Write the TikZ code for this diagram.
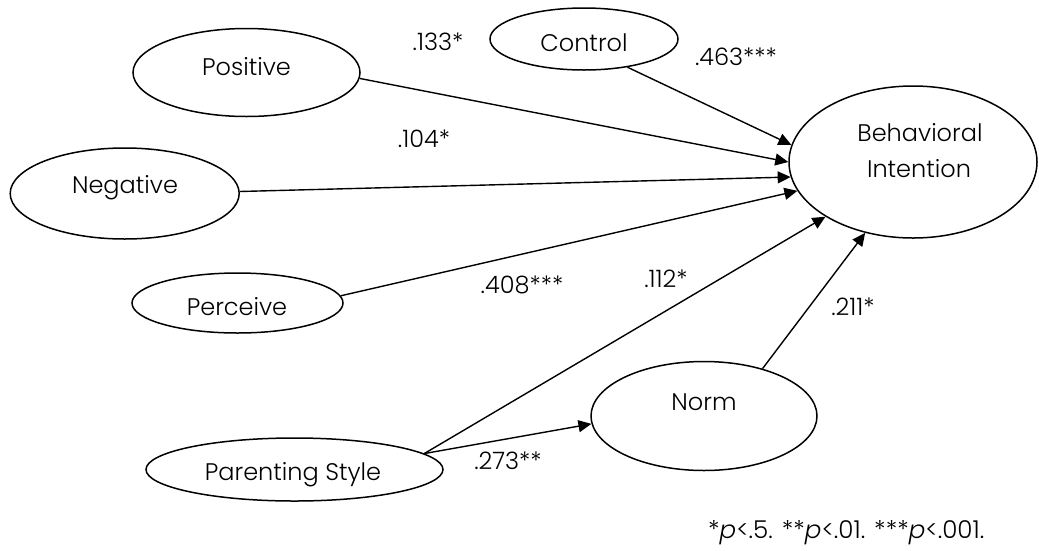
\documentclass[tikz,border=0pt]{standalone}
\usepackage{fontspec}
\setmainfont{Poppins}[UprightFont={* Light}, ItalicFont={* Light Italic}]
\usetikzlibrary{shapes.geometric,arrows.meta}
\begin{document}
\begin{tikzpicture}[x=1pt,y=-1pt,
  lat/.style={draw, ellipse, line width=1.5pt, inner sep=0pt},
  txt/.style={font=\fontsize{24}{28}\selectfont, inner sep=0pt, anchor=base},
  pth/.style={line width=1.4pt, -{Triangle[length=13pt,width=12pt]}},
  note/.style={font=\fontsize{24.6}{28}\selectfont, inner sep=0pt, anchor=base west},
]
\useasboundingbox (0,0) rectangle (1039,550);
% latent variables
\node[lat, minimum width=227pt, minimum height=88pt] (pos) at (246.5,72.5) {};
\node[lat, minimum width=188pt, minimum height=62pt] (ctl) at (584,39) {};
\node[lat, minimum width=248pt, minimum height=152pt] (bi) at (913,162) {};
\node[lat, minimum width=229pt, minimum height=91pt] (neg) at (124.7,193.5) {};
\node[lat, minimum width=211pt, minimum height=60pt] (per) at (237.5,303) {};
\node[lat, minimum width=297pt, minimum height=63pt] (par) at (294.5,469.5) {};
\node[lat, minimum width=226pt, minimum height=109pt] (nrm) at (704,416) {};
% texts
\node[txt] (posT) at (246.5,75) {Positive};
\node[txt] (ctlT) at (584,51) {Control};
\node[txt] (biT1) at (920,141) {Behavioral};
\node[txt] (biT2) at (919,177) {Intention};
\node[txt] (negT) at (125,193) {Negative};
\node[txt] (perT) at (237,315) {Perceive};
\node[txt] (parT) at (293,480) {Parenting Style};
\node[txt] (nrmT) at (704,410) {Norm};
% paths
\draw[pth] (pos.-3) -- (bi.180);
\draw[pth] (ctl.-33) -- (bi.172.6);
\draw[pth] (neg.1) -- (bi.187);
\draw[pth] (per.4) -- (bi.194.6);
\draw[pth] (par.7) -- (bi.212);
\draw[pth] (par.7) -- (nrm.184);
\draw[pth] (nrm.39) -- (bi.236);
% coefficients
\node[txt] (c1) at (438,50) {.133*};
\node[txt] (c2) at (424,147) {.104*};
\node[txt] (c3) at (736,65) {.463***};
\node[txt] (c4) at (522,293) {.408***};
\node[txt] (c5) at (666,287) {.112*};
\node[txt] (c6) at (508,469) {.273**};
\node[txt] (c7) at (853,315) {.211*};
% footnote
\node[note] (fn) at (708,538) {*{\itshape p}<.5. **{\itshape p}<.01. ***{\itshape p}<.001.};
\end{tikzpicture}
\end{document}
